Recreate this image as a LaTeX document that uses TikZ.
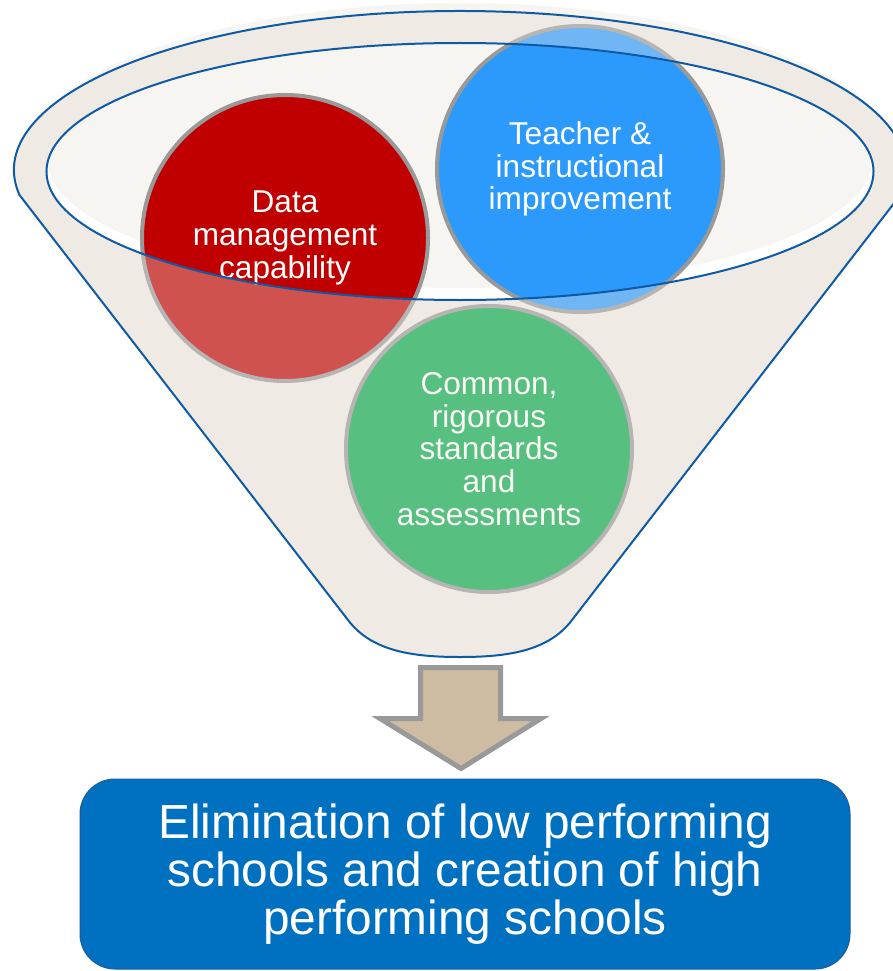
\documentclass[tikz,border=0pt]{standalone}
\usepackage{fontspec}
\setmainfont{Liberation Sans}
\definecolor{glowc}{HTML}{F7F5F1}
\definecolor{funnelc}{HTML}{EFEBE4}
\definecolor{mouthc}{HTML}{F6F5F1}
\definecolor{lineblue}{HTML}{0F5AA5}
\definecolor{redc}{HTML}{C00000}
\definecolor{bluec}{HTML}{2C9AFD}
\definecolor{greenc}{HTML}{06A849}
\definecolor{ringc}{HTML}{999999}
\definecolor{arrowfill}{HTML}{CDBCA2}
\definecolor{boxfill}{HTML}{0070C0}
\definecolor{boxline}{HTML}{1E5C9A}
\tikzset{
  bubble/.style={circle, draw=ringc, line width=4, minimum size=286, inner sep=0,
    text=white, align=center, font=\fontsize{31.6}{32.8}\selectfont},
  resultbox/.style={draw=boxline, line width=1, fill=boxfill, rounded corners=35,
    minimum width=770, minimum height=190, text=white, align=center,
    font=\fontsize{47.8}{48}\selectfont},
  outline/.style={draw=lineblue, line width=2},
  blockarrow/.style={draw=ringc, fill=arrowfill, line width=5, line join=miter}
}
\def\funnelpath{(19.5,195) arc[start angle=170.95, end angle=369.05, x radius=446, y radius=159] -- (572,620) .. controls (548,652) and (505,657) .. (460,657) .. controls (415,657) and (372,652) .. (348,620) -- cycle}
\def\mouthpath{(460,171.5) ellipse[x radius=413.5, y radius=128.5]}
\begin{document}
\begin{tikzpicture}[x=1pt,y=-1pt]
\useasboundingbox (0,0) rectangle (893,971);
\fill[white] (0,0) rectangle (893,971);
% glow behind the rim
\fill[glowc] (460,165) ellipse[x radius=440, y radius=162];
% funnel body
\fill[funnelc] \funnelpath;
% mouth
\fill[white] \mouthpath;
\begin{scope}
  \clip \mouthpath;
  \fill[mouthc] (460,160) ellipse[x radius=412, y radius=128];
\end{scope}
% bubbles
\node[bubble, fill=redc] (data) at (285,238) {Data\\management\\capability};
\node[bubble, fill=greenc] (common) at (489,449) {Common,\\rigorous\\standards\\and\\assessments};
\node[bubble, fill=bluec] (teacher) at (580,169) {Teacher \&\\instructional\\improvement};
% translucent funnel front over the bubbles
\fill[funnelc, opacity=0.35, even odd rule] \funnelpath \mouthpath;
% outlines
\draw[outline] \funnelpath;
\draw[outline] \mouthpath;
% block arrow
\draw[blockarrow] (420.5,667.5) -- (500.5,667.5) -- (500.5,718.5) -- (541,718.5) -- (461,768.5) -- (380,718.5) -- (420.5,718.5) -- cycle;
% result
\node[resultbox] (result) at (465,874) {Elimination of low performing\\schools and creation of high\\performing schools};
\end{tikzpicture}
\end{document}
